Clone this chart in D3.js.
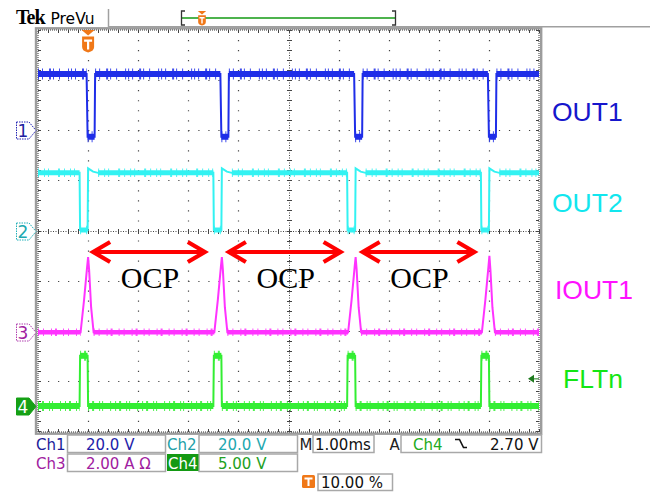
<!DOCTYPE html>
<html>
<head>
<meta charset="utf-8">
<script src="https://cdn.jsdelivr.net/npm/d3@7"></script>
<style>
  body { margin: 0; background: #fff; }
  svg { display: block; }
</style>
</head>
<body>
<svg id="scope" width="650" height="494"></svg>
<script>
// ---- waveform data: [time in ms, value] ----
var out1 = [[-1.0, 22.4], [-0.03, 22.4], [-0.01, -2.6], [0.13, -2.6], [0.14, 22.4],
            [2.64, 22.4], [2.66, -2.6], [2.80, -2.6], [2.81, 22.4],
            [5.31, 22.4], [5.33, -2.6], [5.47, -2.6], [5.48, 22.4],
            [7.98, 22.4], [8.00, -2.6], [8.14, -2.6], [8.15, 22.4], [9.0, 22.4]];

var out2 = [[-1.0, 23.0], [-0.17, 23.0], [-0.16, 0.2], [-0.01, 0.2], [0.0, 24.8], [0.1, 23.5], [0.2, 23.0],
            [2.50, 23.0], [2.51, 0.2], [2.66, 0.2], [2.67, 24.8], [2.77, 23.5], [2.87, 23.0],
            [5.17, 23.0], [5.18, 0.2], [5.33, 0.2], [5.34, 24.8], [5.44, 23.5], [5.54, 23.0],
            [7.84, 23.0], [7.85, 0.2], [8.00, 0.2], [8.01, 24.8], [8.11, 23.5], [8.21, 23.0], [9.0, 23.0]];

var iout1 = [[-1.0, 0], [-0.15, 0], [-0.08, 1.3], [-0.02, 2.6], [0.0, 3.0], [0.02, 2.5], [0.06, 1.0], [0.11, 0],
             [2.52, 0], [2.59, 1.3], [2.65, 2.6], [2.67, 3.0], [2.69, 2.5], [2.73, 1.0], [2.78, 0],
             [5.19, 0], [5.26, 1.3], [5.32, 2.6], [5.34, 3.0], [5.36, 2.5], [5.40, 1.0], [5.45, 0],
             [7.86, 0], [7.93, 1.3], [7.99, 2.6], [8.01, 3.05], [8.03, 2.5], [8.07, 1.0], [8.12, 0], [9.0, 0]];

var fltn = [[-1.0, 0], [-0.17, 0], [-0.16, 5.0], [-0.01, 5.0], [0.0, 0],
            [2.50, 0], [2.51, 5.0], [2.66, 5.0], [2.67, 0],
            [5.17, 0], [5.18, 5.0], [5.33, 5.0], [5.34, 0],
            [7.84, 0], [7.85, 5.0], [8.00, 5.0], [8.01, 0], [9.0, 0]];

var traceNames = ["OUT1", "OUT2", "IOUT1", "FLTn"];
var voltsPerDiv = [20, 20, 2, 5];          // Ch1..Ch4 scale
var chOffsetDiv = [2, 0, -2.03, -3.5];     // ground marker position in divisions
var triggerLevel = 2.70;                   // Ch4, falling edge
var ocpSpans = [[0.06, 2.37], [2.77, 5.08], [5.44, 7.75]];
var ocpLabel = "OCP";

var readRow1 = ["Ch1", "20.0 V", "Ch2", "20.0 V", "M", "1.00ms", "A", "Ch4", "2.70 V"];
var readRow2 = ["Ch3", "2.00 A \u03A9", "Ch4", "5.00 V"];
var triggerPos = "10.00 %";

var traces = [out1, out2, iout1, fltn];
var traceColors = ["#1f2ee8", "#33f2f2", "#ff33ff", "#33ee33"];
var labelColors = ["#1616cc", "#12e6ee", "#ff12ff", "#14e614"];

// ---- layout ----
var svg = d3.select("#scope");
var X0 = 38, X1 = 539, Y0 = 30, Y1 = 431;

var x = d3.scaleLinear().domain([-1, 9]).range([X0, X1]);
var yDiv = d3.scaleLinear().domain([-4, 4]).range([Y1, Y0]);
var minor = (X1 - X0) / 50;

function yOf(ch) {
  return function(d) { return yDiv(chOffsetDiv[ch] + d[1] / voltsPerDiv[ch]); };
}

// header
svg.append("text").attr("x", 16).attr("y", 24)
  .style("font", "bold 20px 'Liberation Serif'").attr("fill", "#000").attr("letter-spacing", "-1").text("Tek");
svg.append("text").attr("x", 50.5).attr("y", 23.5)
  .style("font", "15.5px 'DejaVu Sans'").attr("fill", "#000").text("PreVu");
svg.append("line").attr("x1", 108.5).attr("x2", 108.5).attr("y1", 9).attr("y2", 27)
  .attr("stroke", "#a0a0a0").attr("stroke-width", 1.5);
svg.append("line").attr("x1", 108).attr("x2", 650).attr("y1", 26.8).attr("y2", 26.8)
  .attr("stroke", "#a0a0a0").attr("stroke-width", 1.6);

// record bar
svg.append("line").attr("x1", 182).attr("x2", 395).attr("y1", 18).attr("y2", 18)
  .attr("stroke", "#139a13").attr("stroke-width", 1.5);
svg.append("path").attr("d", "M185,11H181.5V25H185M392,11H395.5V25H392")
  .attr("fill", "none").attr("stroke", "#333").attr("stroke-width", 1.3);

function tIcon(cx, top, s) {
  var g = svg.append("g").attr("transform", "translate(" + cx + "," + top + ") scale(" + s + ")");
  g.append("path").attr("d", "M-6.5,0H6.5L0,5.5Z").attr("fill", "#f07818");
  g.append("path").attr("d", "M-6,6.5H6V17Q6,21 0,22.5Q-6,21 -6,17Z").attr("fill", "#f07818");
  g.append("path").attr("d", "M-4,9.5H4V11.8H1.1V19.5H-1.1V11.8H-4Z").attr("fill", "#fff");
}
tIcon(202, 11, 0.64);

// plot frame
svg.append("rect").attr("x", 36).attr("y", 28.3).attr("width", 505.2).attr("height", 405.4)
  .attr("fill", "none").attr("stroke", "#9c9c9c").attr("stroke-width", 2.4);
svg.append("rect").attr("x", X0).attr("y", Y0).attr("width", X1 - X0).attr("height", Y1 - Y0 + 1)
  .attr("fill", "#fff").attr("stroke", "#333").attr("stroke-width", 1).attr("stroke-dasharray", "1,1");

var grid = svg.append("g").attr("stroke", "#444").attr("stroke-width", 1.2);
d3.range(1, 10).filter(function(i) { return i !== 5; }).forEach(function(i) {
  var gx = Math.round(X0 + i * (X1 - X0) / 10) + 0.5;
  grid.append("line").attr("x1", gx).attr("x2", gx).attr("y1", Y0).attr("y2", Y1)
    .attr("stroke-dasharray", "1.2," + (minor - 1.2));
});
d3.range(1, 8).filter(function(j) { return j !== 4; }).forEach(function(j) {
  var gy = Math.round(yDiv(j - 4)) + 0.5;
  grid.append("line").attr("x1", X0).attr("x2", X1).attr("y1", gy).attr("y2", gy)
    .attr("stroke-dasharray", "1.2," + (minor - 1.2));
});
// center cross with minor ticks
var cx0 = Math.round(x(4)) + 0.5, cy0 = Math.round(yDiv(0)) + 0.5;
grid.append("line").attr("x1", cx0).attr("x2", cx0).attr("y1", Y0).attr("y2", Y1)
  .attr("stroke-width", 1).attr("stroke-dasharray", "1,1.5");
grid.append("line").attr("x1", X0).attr("x2", X1).attr("y1", cy0).attr("y2", cy0)
  .attr("stroke-width", 1).attr("stroke-dasharray", "1,1.5");
d3.range(0, 51).forEach(function(k) {
  var tx = Math.round(X0 + k * minor) + 0.5;
  grid.append("line").attr("x1", tx).attr("x2", tx).attr("y1", cy0 - 2.5).attr("y2", cy0 + 2.5).attr("stroke-width", 1);
  grid.append("line").attr("x1", tx).attr("x2", tx).attr("y1", Y0).attr("y2", Y0 + 3).attr("stroke-width", 1);
  grid.append("line").attr("x1", tx).attr("x2", tx).attr("y1", Y1 - 2).attr("y2", Y1 + 1).attr("stroke-width", 1);
});
d3.range(0, 41).forEach(function(k) {
  var ty = Math.round(Y0 + k * (Y1 - Y0) / 40) + 0.5;
  grid.append("line").attr("x1", cx0 - 2.5).attr("x2", cx0 + 2.5).attr("y1", ty).attr("y2", ty).attr("stroke-width", 1);
  grid.append("line").attr("x1", X0).attr("x2", X0 + 3).attr("y1", ty).attr("y2", ty).attr("stroke-width", 1);
  grid.append("line").attr("x1", X1 - 3).attr("x2", X1).attr("y1", ty).attr("y2", ty).attr("stroke-width", 1);
});

// traces
svg.append("clipPath").attr("id", "plotclip").append("rect")
  .attr("x", X0).attr("y", Y0).attr("width", X1 - X0).attr("height", Y1 - Y0);
var plot = svg.append("g").attr("clip-path", "url(#plotclip)");

var bandW = [6, 5, 4.5, 6];
var spikeW = [11, 8.5, 7.5, 10];
var spikeDash = ["1,3,1,6,2,2,1,5,1,8,1,2", "1,5,1,3,1,9,2,4", "1,4,1,7,1,3,2,6", "1,3,2,5,1,2,1,7,1,4"];

traces.forEach(function(data, ch) {
  var line = d3.line().x(function(d) { return x(d[0]); }).y(yOf(ch));
  var flats = [];
  for (var i = 0; i < data.length - 1; i++) {
    if (data[i][1] === data[i + 1][1] && data[i + 1][0] - data[i][0] > 0.05) flats.push([data[i], data[i + 1]]);
  }
  var g = plot.append("g");
  g.selectAll("path.spike").data(flats).join("path").attr("class", "spike")
    .attr("d", line).attr("fill", "none").attr("stroke", traceColors[ch])
    .attr("stroke-width", spikeW[ch]).attr("stroke-dasharray", spikeDash[ch]).attr("opacity", 0.85);
  g.selectAll("path.band").data(flats).join("path").attr("class", "band")
    .attr("d", line).attr("fill", "none").attr("stroke", traceColors[ch])
    .attr("stroke-width", bandW[ch]);
  g.append("path").datum(data).attr("d", line).attr("fill", "none")
    .attr("stroke", traceColors[ch]).attr("stroke-width", 2);
});

// OCP arrows
var ay = 252;
var arrows = svg.append("g").attr("stroke", "#ff0000").attr("stroke-width", 4.2).attr("fill", "none")
  .attr("stroke-linecap", "butt");
ocpSpans.forEach(function(s) {
  var a = x(s[0]), b = x(s[1]);
  arrows.append("line").attr("x1", a + 2).attr("x2", b - 2).attr("y1", ay).attr("y2", ay);
  arrows.append("path").attr("d", "M" + (a + 19) + "," + (ay - 10) + "L" + (a + 2) + "," + ay + "L" + (a + 19) + "," + (ay + 10));
  arrows.append("path").attr("d", "M" + (b - 19) + "," + (ay - 10) + "L" + (b - 2) + "," + ay + "L" + (b - 19) + "," + (ay + 10));
  svg.append("text").attr("x", (a + b) / 2 + 1).attr("y", 288).attr("text-anchor", "middle")
    .style("font", "30px 'Liberation Serif'").attr("fill", "#000").text(ocpLabel);
});

// trigger marker in plot
tIcon(x(0), Y0, 1);

// trigger level arrow on the right
var tly = yDiv(chOffsetDiv[3] + triggerLevel / voltsPerDiv[3]);
svg.append("path").attr("d", "M528," + tly + "L534," + (tly - 4) + "V" + (tly + 4) + "Z").attr("fill", "#1e7a1e");
svg.append("line").attr("x1", 533).attr("x2", X1).attr("y1", tly).attr("y2", tly)
  .attr("stroke", "#1e7a1e").attr("stroke-width", 1);

// channel ground markers
var markerStroke = ["#2323b4", "#22b0b8", "#b040b0", "#15a015"];
var markerText = ["#2020a0", "#20a8b0", "#a020a0", "#fff"];
[0, 1, 2, 3].forEach(function(ch) {
  var my = Math.round(yDiv(chOffsetDiv[ch])) + 0.5;
  var p = "M16.5," + (my - 8.5) + "H29L36," + my + "L29," + (my + 8.5) + "H16.5Z";
  svg.append("path").attr("d", p)
    .attr("fill", ch === 3 ? "#15a015" : "#fff")
    .attr("stroke", markerStroke[ch]).attr("stroke-width", 1)
    .attr("stroke-dasharray", ch === 3 ? null : "1.5,1");
  svg.append("text").attr("x", 23).attr("y", my + 6.5).attr("text-anchor", "middle")
    .style("font", "17px 'DejaVu Sans'").attr("fill", markerText[ch]).text(String(ch + 1));
});

// trace labels on the right
var labelX = [552, 552, 555, 563];
var labelY = [121, 212, 299, 388];
traceNames.forEach(function(n, i) {
  svg.append("text").attr("x", labelX[i]).attr("y", labelY[i])
    .style("font", "26.5px 'Liberation Sans'").attr("fill", labelColors[i]).text(n);
});

// readout boxes
var ro = svg.append("g").style("font", "15px 'DejaVu Sans'");
function box(x0, y0, w, h) {
  ro.append("rect").attr("x", x0).attr("y", y0).attr("width", w).attr("height", h)
    .attr("fill", "#fff").attr("stroke", "#a8a8a8").attr("stroke-width", 1.5);
}
function txt(s, tx, ty, col, anchor) {
  ro.append("text").attr("x", tx).attr("y", ty).attr("fill", col)
    .attr("text-anchor", anchor || "start").text(s);
}
box(67.5, 435, 98, 17.5); box(199, 435, 98.5, 17.5); box(313, 435, 61, 17.5); box(401, 435, 140.5, 17.5);
box(67.5, 454, 98, 17.5); box(199, 454, 98.5, 17.5);
box(318, 474, 74.5, 16.5);

txt(readRow1[0], 36, 450, "#1c1c99");
txt(readRow1[1], 86, 450, "#2222aa");
txt(readRow1[2], 167, 450, "#22a0a8");
txt(readRow1[3], 218, 450, "#22a8b0");
txt(readRow1[4], 299.5, 450, "#222");
txt(readRow1[5], 315, 450, "#111");
txt(readRow1[6], 389.5, 450, "#222");
txt(readRow1[7], 413, 450, "#22aa22");
ro.append("path").attr("d", "M455,439.5H459.5L463.5,447.5H467").attr("fill", "none")
  .attr("stroke", "#111").attr("stroke-width", 1.6);
txt(readRow1[8], 538.5, 450, "#111", "end");

txt(readRow2[0], 36, 469, "#a020a0");
txt(readRow2[1], 86, 469, "#a020a0");
ro.append("rect").attr("x", 167).attr("y", 454).attr("width", 31.5).attr("height", 17).attr("fill", "#139913");
txt(readRow2[2], 168, 469, "#fff");
txt(readRow2[3], 218, 469, "#22a022");

ro.append("rect").attr("x", 302).attr("y", 475).attr("width", 13).attr("height", 13).attr("rx", 1.5).attr("fill", "#f07818");
ro.append("path").attr("d", "M304.5,477.5H312.5V479.5H309.5V486H307.5V479.5H304.5Z").attr("fill", "#fff");
txt(triggerPos, 321, 488, "#111");
</script>
</body>
</html>
